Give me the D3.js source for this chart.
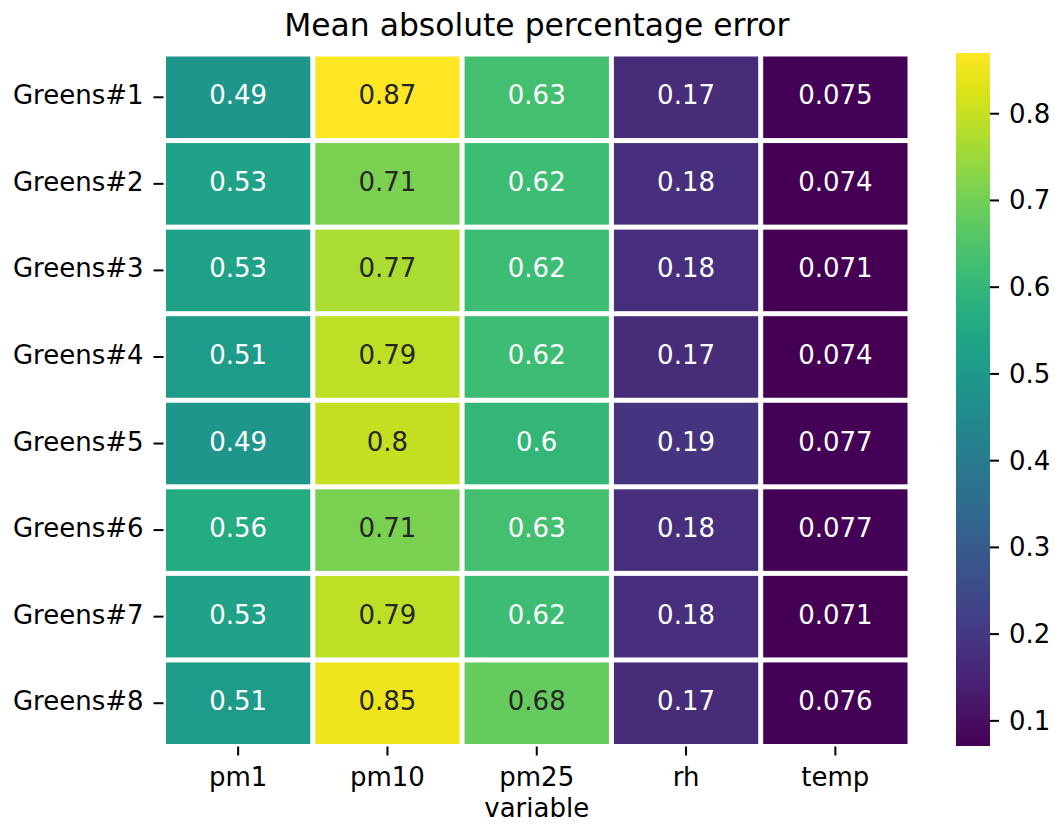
<!DOCTYPE html>
<html>
<head>
<meta charset="utf-8">
<script src="https://cdn.jsdelivr.net/npm/d3@7"></script>
<style>
  html, body { margin: 0; padding: 0; background: #fff; }
  svg { display: block; font-family: "DejaVu Sans", sans-serif; }
</style>
</head>
<body>
<svg id="chart" width="1055" height="827"></svg>
<script>
const rows = ["Greens#1","Greens#2","Greens#3","Greens#4","Greens#5","Greens#6","Greens#7","Greens#8"];
const cols = ["pm1","pm10","pm25","rh","temp"];
const pm1  = [0.49, 0.53, 0.53, 0.51, 0.49, 0.56, 0.53, 0.51];
const pm10 = [0.87, 0.71, 0.77, 0.79, 0.80, 0.71, 0.79, 0.85];
const pm25 = [0.63, 0.62, 0.62, 0.62, 0.60, 0.63, 0.62, 0.68];
const rh   = [0.17, 0.18, 0.18, 0.17, 0.19, 0.18, 0.18, 0.17];
const temp = [0.075, 0.074, 0.071, 0.074, 0.077, 0.077, 0.071, 0.076];
const labels = {
  pm1:  ["0.49","0.53","0.53","0.51","0.49","0.56","0.53","0.51"],
  pm10: ["0.87","0.71","0.77","0.79","0.8","0.71","0.79","0.85"],
  pm25: ["0.63","0.62","0.62","0.62","0.6","0.63","0.62","0.68"],
  rh:   ["0.17","0.18","0.18","0.17","0.19","0.18","0.18","0.17"],
  temp: ["0.075","0.074","0.071","0.074","0.077","0.077","0.071","0.076"]
};
const cbarTicks = [0.1, 0.2, 0.3, 0.4, 0.5, 0.6, 0.7, 0.8];
const title = "Mean absolute percentage error";
const xLabel = "variable";

const series = {pm1, pm10, pm25, rh, temp};
const cells = [];
rows.forEach((r, i) => cols.forEach(c => cells.push({row: r, col: c, value: series[c][i], label: labels[c][i]})));

const allVals = cells.map(d => d.value);
const vmin = d3.min(allVals), vmax = d3.max(allVals);

const svg = d3.select("#chart");
const ax = {left: 163.5, right: 910, top: 54, bottom: 746.5};
const gap = 5;

const x = d3.scaleBand().domain(cols).range([ax.left, ax.right]);
const y = d3.scaleBand().domain(rows).range([ax.top, ax.bottom]);
const color = d3.scaleSequential(d3.interpolateViridis).domain([vmin, vmax]);

function lum(c) {
  const rgb = d3.rgb(c);
  const f = v => { v /= 255; return v <= 0.03928 ? v / 12.92 : Math.pow((v + 0.055) / 1.055, 2.4); };
  return 0.2126 * f(rgb.r) + 0.7152 * f(rgb.g) + 0.0722 * f(rgb.b);
}

const fs = 26;
const g = svg.append("g");
g.selectAll("rect.cell").data(cells).join("rect")
  .attr("class", "cell")
  .attr("x", d => x(d.col) + gap / 2)
  .attr("y", d => y(d.row) + gap / 2)
  .attr("width", x.bandwidth() - gap)
  .attr("height", y.bandwidth() - gap)
  .attr("fill", d => color(d.value));

g.selectAll("text.ann").data(cells).join("text")
  .attr("class", "ann")
  .attr("x", d => x(d.col) + x.bandwidth() / 2)
  .attr("y", d => y(d.row) + y.bandwidth() / 2 + 7)
  .attr("text-anchor", "middle")
  .attr("font-size", fs)
  .attr("fill", d => lum(color(d.value)) > 0.408 ? "#262626" : "#ffffff")
  .text(d => d.label);

// Y axis
const yAxis = svg.append("g");
rows.forEach(r => {
  const cy = y(r) + y.bandwidth() / 2;
  yAxis.append("line").attr("x1", ax.left - 10).attr("x2", ax.left).attr("y1", cy).attr("y2", cy)
    .attr("stroke", "#000").attr("stroke-width", 2);
  yAxis.append("text").attr("x", ax.left - 20).attr("y", cy + 7)
    .attr("text-anchor", "end").attr("font-size", fs).attr("fill", "#000").text(r);
});

// X axis
const xAxis = svg.append("g");
cols.forEach(c => {
  const cx = x(c) + x.bandwidth() / 2;
  xAxis.append("line").attr("x1", cx).attr("x2", cx).attr("y1", ax.bottom).attr("y2", ax.bottom + 9)
    .attr("stroke", "#000").attr("stroke-width", 2);
  xAxis.append("text").attr("x", cx).attr("y", 786)
    .attr("text-anchor", "middle").attr("font-size", fs).attr("fill", "#000").text(c);
});
svg.append("text").attr("x", (ax.left + ax.right) / 2).attr("y", 817)
  .attr("text-anchor", "middle").attr("font-size", fs).attr("fill", "#000").text(xLabel);

// Title
svg.append("text").attr("x", (ax.left + ax.right) / 2).attr("y", 36)
  .attr("text-anchor", "middle").attr("font-size", 31.4).attr("fill", "#000").text(title);

// Colorbar
const cb = {left: 956, right: 990, top: 53, bottom: 746};
const cy = d3.scaleLinear().domain([vmin, vmax]).range([cb.bottom, cb.top]);
const defs = svg.append("defs");
const grad = defs.append("linearGradient").attr("id", "cbgrad")
  .attr("x1", 0).attr("y1", 1).attr("x2", 0).attr("y2", 0);
d3.range(0, 1.0001, 0.02).forEach(t => {
  grad.append("stop").attr("offset", t).attr("stop-color", d3.interpolateViridis(t));
});
svg.append("rect").attr("x", cb.left).attr("y", cb.top)
  .attr("width", cb.right - cb.left).attr("height", cb.bottom - cb.top)
  .attr("fill", "url(#cbgrad)");
const cbAxis = svg.append("g");
cbarTicks.forEach(t => {
  const ty = cy(t);
  cbAxis.append("line").attr("x1", cb.right).attr("x2", cb.right + 9).attr("y1", ty).attr("y2", ty)
    .attr("stroke", "#000").attr("stroke-width", 2);
  cbAxis.append("text").attr("x", cb.right + 19).attr("y", ty + 9)
    .attr("font-size", fs).attr("fill", "#000").text(d3.format(".1f")(t));
});
</script>
</body>
</html>
